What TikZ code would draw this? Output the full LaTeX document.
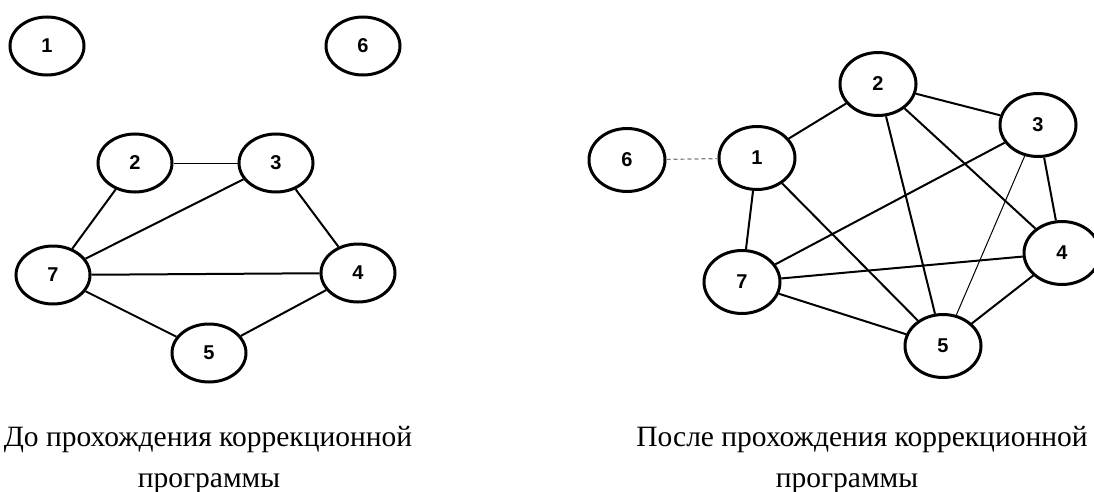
\documentclass[tikz,border=0pt]{standalone}
\usepackage{fontspec}
\setmainfont{Liberation Serif}
\newfontfamily\numfont{Liberation Sans}
\usetikzlibrary{shapes.geometric}

\begin{document}
\begin{tikzpicture}[x=1pt, y=-1pt,
    vert/.style={ellipse, draw, line width=3pt, minimum width=74pt,
      minimum height=58pt, inner sep=0pt,
      font=\numfont\bfseries\fontsize{20}{20}\selectfont},
    vertb/.style={vert, minimum width=76pt, minimum height=63pt},
    link/.style={line width=2pt},
    thinlink/.style={line width=1pt},
    caption/.style={anchor=base, font=\fontsize{29.5}{29.5}\selectfont}]
  \useasboundingbox (0,0) rectangle (1094,492);
  % Before: vertices
  \node[vert] (b1) at (47,46)   {1};
  \node[vert] (b6) at (363,46)  {6};
  \node[vert] (b2) at (135,163) {2};
  \node[vert] (b3) at (276,163) {3};
  \node[vert] (b7) at (53,275)  {7};
  \node[vert] (b4) at (358,273) {4};
  \node[vert] (b5) at (209,353) {5};
  % Before: links
  \draw[thinlink] (b2) -- (b3);
  \foreach \u/\v in {2/7, 3/7, 3/4, 7/4, 7/5, 5/4}
    \draw[link] (b\u) -- (b\v);
  % After: vertices
  \node[vertb] (a6) at (627,160)  {6};
  \node[vertb] (a1) at (757,158)  {1};
  \node[vertb] (a2) at (878,84)   {2};
  \node[vertb] (a3) at (1038,125) {3};
  \node[vertb] (a4) at (1062,253) {4};
  \node[vertb] (a7) at (742,282)  {7};
  \node[vertb] (a5) at (943,346)  {5};
  % After: links
  \draw[gray, line width=1.2pt, dash pattern=on 4pt off 3pt] (a6) -- (a1);
  \draw[thinlink] (a3) -- (a5);
  \foreach \u/\v in {1/2, 1/7, 1/5, 2/3, 2/4, 2/5, 3/7, 3/4, 7/4, 7/5, 5/4}
    \draw[link] (a\u) -- (a\v);
  % Captions
  \node[caption] (capb1) at (208,446) {До прохождения коррекционной};
  \node[caption] (capb2) at (209,487) {программы};
  \node[caption] (capa1) at (862,446) {После прохождения коррекционной};
  \node[caption] (capa2) at (847,487) {программы};
\end{tikzpicture}
\end{document}
